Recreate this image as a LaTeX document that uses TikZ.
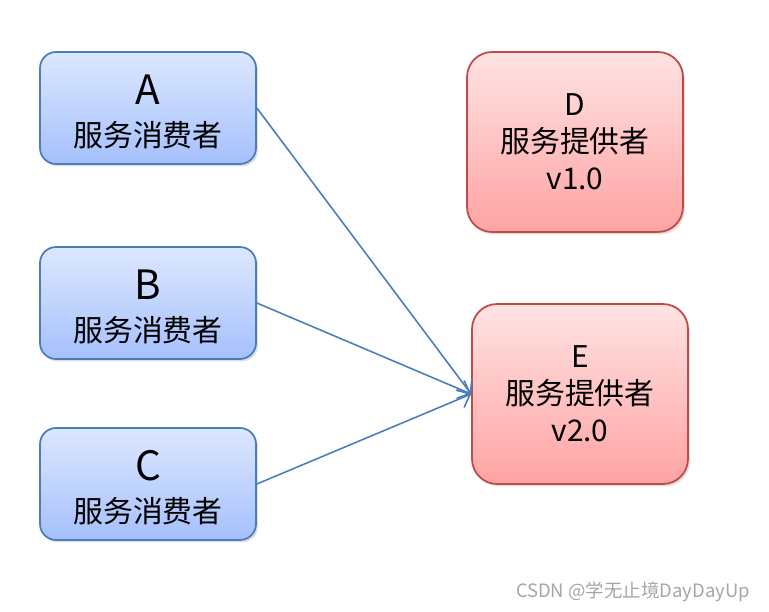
\documentclass[tikz,border=0pt]{standalone}
\usepackage{fontspec}
\setmainfont{Noto Sans CJK SC}
\usetikzlibrary{shadows,arrows.meta}
\definecolor{usertop}{HTML}{DDE8FF}
\definecolor{userbot}{HTML}{A5C0FC}
\definecolor{userline}{HTML}{4A7EBB}
\definecolor{provtop}{HTML}{FFE3E3}
\definecolor{provbot}{HTML}{FFA3A3}
\definecolor{provline}{HTML}{BE4B48}
\newcommand{\bigid}[1]{{\fontsize{23}{24}\selectfont\rule{0pt}{21pt}#1}}
\begin{document}
\begin{tikzpicture}[x=0.02cm, y=-0.02cm,
    consumer/.style={draw=userline, line width=1pt, rounded corners=0.32cm,
        top color=usertop, bottom color=userbot,
        minimum width=4.32cm, minimum height=2.24cm, align=center,
        font=\fontsize{17}{24}\selectfont,
        drop shadow={shadow xshift=0.04cm, shadow yshift=-0.05cm, opacity=0.25}},
    provider/.style={draw=provline, line width=1pt, rounded corners=0.5cm,
        top color=provtop, bottom color=provbot,
        minimum width=4.32cm, minimum height=3.6cm, align=center,
        font=\fontsize{17}{21}\selectfont,
        drop shadow={shadow xshift=0.04cm, shadow yshift=-0.05cm, opacity=0.25}},
    call/.style={draw=userline, line width=0.9pt, -{Straight Barb[length=6pt,width=11pt]}}]
    \useasboundingbox (0,0) rectangle (769,612);
    % consumers
    \node[consumer] (a) at (148,108) {\bigid{A}\\服务消费者};
    \node[consumer] (b) at (148,303) {\bigid{B}\\服务消费者};
    \node[consumer] (c) at (148,484) {\bigid{C}\\服务消费者};
    % providers
    \node[provider] (d) at (575,142) {D\\服务提供者\\v1.0};
    \node[provider] (e) at (580,394) {E\\服务提供者\\v2.0};
    % calls
    \draw[call] (a.east) -- (e.west);
    \draw[call] (b.east) -- (e.west);
    \draw[call] (c.east) -- (e.west);
    \node[text=gray!70, font=\fontsize{10.5}{12}\selectfont, anchor=east] (mark) at (756,592) {CSDN @学无止境DayDayUp};
\end{tikzpicture}
\end{document}
